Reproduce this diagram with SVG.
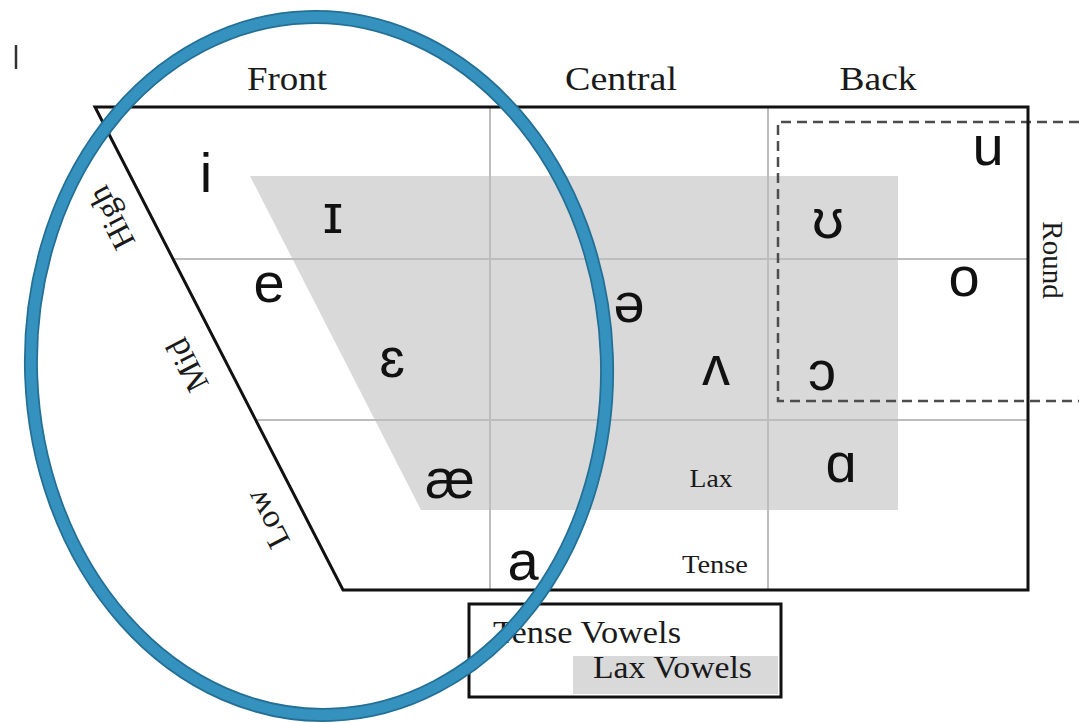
<svg xmlns="http://www.w3.org/2000/svg" width="1079" height="723" viewBox="0 0 1079 723">
  <style>
    .frame { fill: none; stroke: #111; stroke-width: 3; stroke-linejoin: miter; }
    .grid { stroke: #bdbdbd; stroke-width: 2; fill: none; }
    .lax { fill: #d9d9d9; }
    .dash { fill: none; stroke: #4d4d4d; stroke-width: 2.5; stroke-dasharray: 10 6; }
    .axis { font-family: "Liberation Serif", "Times New Roman", serif; font-size: 34px; fill: #1a1a1a; }
    .side { font-family: "Liberation Serif", "Times New Roman", serif; font-size: 33px; fill: #1a1a1a; }
    .round { font-family: "Liberation Serif", "Times New Roman", serif; font-size: 29px; fill: #1a1a1a; }
    .small { font-family: "Liberation Serif", "Times New Roman", serif; font-size: 25px; fill: #1a1a1a; }
    .legend { font-family: "Liberation Serif", "Times New Roman", serif; font-size: 32px; fill: #1a1a1a; }
    .v { font-family: "Liberation Sans", "DejaVu Sans", Arial, sans-serif; font-size: 56px; fill: #111; text-anchor: middle; }
    .ring-edge { fill: none; stroke: #236f95; stroke-width: 14; }
    .ring { fill: none; stroke: #3592bf; stroke-width: 10.5; }
  </style>

  <rect width="1079" height="723" fill="#ffffff"/>

  <!-- small stray mark at top left -->
  <line x1="16" y1="45" x2="16" y2="69" stroke="#333" stroke-width="2.5"/>

  <!-- lax vowel region -->
  <g id="lax-region">
    <polygon class="lax" points="250,176 898,176 898,510 421,510"/>
  </g>

  <!-- grid lines inside the chart -->
  <g id="grid">
    <line class="grid" x1="490" y1="107" x2="490" y2="590"/>
    <line class="grid" x1="768" y1="107" x2="768" y2="590"/>
    <line class="grid" x1="173" y1="259" x2="1028" y2="259"/>
    <line class="grid" x1="256" y1="420" x2="1028" y2="420"/>
  </g>

  <!-- rounded vowels box -->
  <g id="round-box">
    <path class="dash" d="M1079,122 H778 V401 H1079"/>
  </g>

  <!-- chart outline -->
  <g id="chart-frame">
    <polygon class="frame" points="95,107 1028,107 1028,590 343,590"/>
  </g>

  <!-- column headings -->
  <g id="headings">
    <text class="axis" x="287" y="90" text-anchor="middle" textLength="80" lengthAdjust="spacingAndGlyphs">Front</text>
    <text class="axis" x="621" y="90" text-anchor="middle" textLength="112" lengthAdjust="spacingAndGlyphs">Central</text>
    <text class="axis" x="878" y="90" text-anchor="middle" textLength="77" lengthAdjust="spacingAndGlyphs">Back</text>
  </g>

  <!-- row headings along the slanted edge -->
  <g id="row-labels">
    <text class="side" text-anchor="middle" transform="translate(121,213) rotate(-117.2)">High</text>
    <text class="side" text-anchor="middle" transform="translate(197,360) rotate(-117.2)">Mid</text>
    <text class="side" text-anchor="middle" transform="translate(277,514) rotate(-117.2)">Low</text>
    <text class="round" text-anchor="middle" transform="translate(1043,260) rotate(90)">Round</text>
  </g>

  <!-- vowel symbols -->
  <g id="vowels">
    <text id="v-i" class="v" x="206" y="192">i</text>
    <text id="v-lax-i" class="v" x="333" y="233">ɪ</text>
    <text id="v-e" class="v" x="269" y="302">e</text>
    <text id="v-open-e" class="v" x="392" y="377">ɛ</text>
    <text id="v-ae" class="v" x="450" y="498">æ</text>
    <text id="v-a" class="v" x="523" y="580">a</text>
    <text id="v-schwa" class="v" x="629" y="322">ə</text>
    <text id="v-wedge" class="v" x="716" y="385">ʌ</text>
    <text id="v-u" class="v" x="988" y="165">u</text>
    <text id="v-lax-u" class="v" x="828" y="238">ʊ</text>
    <text id="v-o" class="v" x="964" y="296">o</text>
    <text id="v-open-o" class="v" x="822" y="390">ɔ</text>
    <text id="v-script-a" class="v" x="841" y="482">ɑ</text>
  </g>

  <!-- region labels -->
  <g id="region-labels">
    <text class="small" x="711" y="487" text-anchor="middle" textLength="43" lengthAdjust="spacingAndGlyphs">Lax</text>
    <text class="small" x="715" y="573" text-anchor="middle" textLength="66" lengthAdjust="spacingAndGlyphs">Tense</text>
  </g>

  <!-- legend -->
  <g id="legend">
    <rect x="573" y="656" width="205" height="38" class="lax"/>
    <rect x="469" y="604" width="312" height="93" class="frame"/>
    <text class="legend" x="493" y="643" textLength="188" lengthAdjust="spacingAndGlyphs">Tense Vowels</text>
    <text class="legend" x="593" y="678" textLength="159" lengthAdjust="spacingAndGlyphs">Lax Vowels</text>
  </g>

  <!-- highlight ring -->
  <g id="highlight">
    <ellipse class="ring-edge" cx="319" cy="366" rx="288" ry="349" transform="rotate(-2 319 366)"/>
    <ellipse class="ring" cx="319" cy="366" rx="288" ry="349" transform="rotate(-2 319 366)"/>
  </g>
</svg>
